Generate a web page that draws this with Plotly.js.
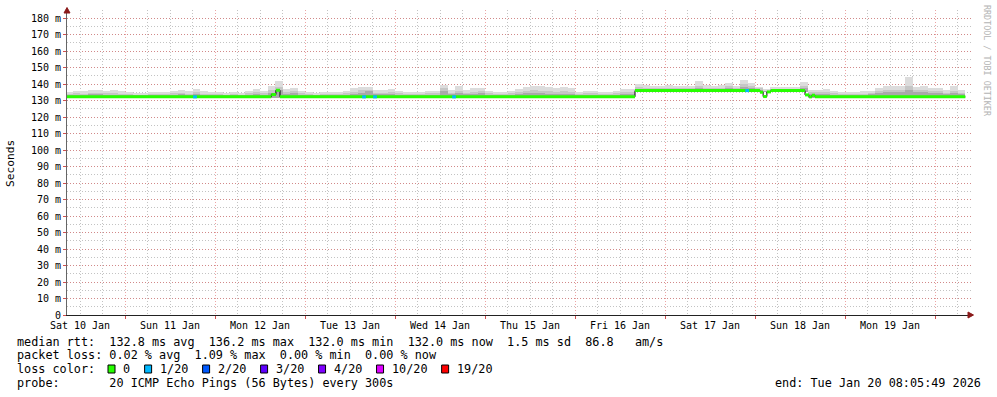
<!DOCTYPE html>
<html><head><meta charset="utf-8">
<script src="https://cdn.plot.ly/plotly-3.0.1.min.js"></script>
<style>html,body{margin:0;padding:0;background:#fff}#chart{width:997px;height:397px}</style>
</head><body><div id="chart"></div>
<script>
// ---------------- data ----------------
const binStart = '2026-01-10 08:00';   // smoke bins, 2 hours each
const binHours = 2;
const smokeTop = [
135.2,135.8,135.6,136.2,136.6,135.8,136.4,135.6,135.0,134.6,134.6,135.2,135.2,135.4,135.8,136.4,135.6,137.0,135.6,135.2,135.0,134.6,135.0,134.8,
135.8,137.2,136.0,138.6,141.6,137.0,137.6,135.8,135.2,134.6,135.2,135.2,135.4,135.8,137.4,138.0,138.2,136.4,136.6,137.2,136.0,
135.4,135.2,135.2,135.8,135.8,139.6,136.4,138.6,136.4,137.4,137.8,135.8,135.4,135.2,135.8,137.2,138.2,139.0,138.6,138.0,137.6,138.0,137.6,
135.0,135.8,135.8,135.2,135.2,135.8,137.0,137.0,140.0,139.4,138.8,138.8,139.4,139.0,138.8,138.8,141.6,139.4,138.8,139.6,140.6,139.0,142.6,140.4,138.4,137.2,138.2,138.2,
138.2,138.0,141.0,136.6,136.6,137.0,135.8,135.2,135.2,135.2,135.6,135.8,137.6,138.8,138.8,138.8,144.2,138.2,138.8,137.4,137.6,136.4,138.6,136.4];
const smokeMid = [
134.0,134.4,134.2,134.6,134.8,134.4,134.6,134.2,133.8,133.6,133.6,134.0,134.0,134.2,134.4,134.6,134.2,135.0,134.2,134.0,133.8,133.6,133.8,133.6,
134.4,135.2,134.6,136.4,138.4,135.2,135.6,134.4,134.0,133.6,134.0,134.0,134.2,134.4,135.4,136.2,136.4,134.8,134.8,135.2,134.4,
134.2,134.0,134.0,134.4,134.4,137.4,134.8,136.0,134.8,135.4,135.6,134.4,134.2,134.0,134.4,135.2,135.8,136.2,136.0,135.6,135.4,135.6,135.2,
133.8,134.4,134.4,134.0,134.0,134.4,135.2,135.2,138.2,137.8,137.6,137.6,137.8,137.6,137.6,137.6,139.0,137.8,137.6,137.8,138.6,137.8,140.0,138.6,137.4,136.0,137.2,137.2,
137.2,137.0,139.0,135.0,135.0,135.2,134.4,134.0,134.0,134.0,134.2,134.4,135.6,136.4,136.6,136.4,138.6,136.2,136.4,135.6,135.6,134.8,136.0,134.8];
const smokeDark = [
133.4,133.6,133.4,133.8,134.0,133.4,133.6,133.4,133.2,133.2,133.2,133.4,133.4,133.4,133.6,133.8,133.4,134.0,133.4,133.2,133.2,133.2,133.2,133.2,
133.6,134.0,133.6,134.6,136.6,134.2,134.4,133.6,133.4,133.2,133.4,133.4,133.4,133.6,134.2,134.8,135.6,133.8,133.8,134.2,133.6,
133.4,133.4,133.4,133.6,133.6,135.6,133.8,134.6,133.8,134.2,134.4,133.6,133.4,133.4,133.6,134.0,134.4,134.6,134.4,134.2,134.0,134.2,134.0,
133.2,133.6,133.6,133.4,133.4,133.6,134.2,134.2,137.2,136.8,136.8,136.8,137.0,136.8,136.8,136.8,137.4,136.8,136.8,137.0,137.4,136.8,138.2,137.4,136.6,135.6,136.8,136.8,
136.8,136.8,137.4,134.0,134.0,134.2,133.6,133.4,133.4,133.4,133.6,133.8,134.6,135.2,135.4,135.2,136.2,135.0,135.2,134.6,134.6,134.0,134.8,134.0];
const smokeLo = [
131.6,131.6,131.6,131.6,131.6,131.6,131.6,131.6,131.6,131.6,131.6,131.6,131.6,131.6,131.6,131.6,131.6,131.6,131.6,131.6,131.6,131.6,131.6,131.6,
131.6,131.6,131.6,131.6,131.6,131.6,131.6,131.6,131.6,131.6,131.6,131.6,131.6,131.6,131.6,131.6,131.6,131.6,131.6,131.6,131.6,
131.6,131.6,131.6,131.6,131.6,131.6,131.6,131.6,131.6,131.6,131.6,131.6,131.6,131.6,131.6,131.6,131.6,131.6,131.6,131.6,131.6,131.6,131.6,
131.6,131.6,131.6,131.6,131.6,131.6,131.6,131.6,135.4,135.4,135.4,135.4,135.4,135.4,135.4,135.4,135.4,135.4,135.4,135.4,135.4,135.4,135.4,135.4,135.2,135.2,135.4,135.4,
135.4,135.4,135.4,131.6,131.6,131.6,131.6,131.6,131.6,131.6,131.6,131.6,131.6,131.6,131.6,131.6,131.6,131.6,131.6,131.6,131.6,131.6,131.6,131.6];

// median rtt (ms), step changes
const medianTimes = ['2026-01-10 08:05','2026-01-12 15:00','2026-01-12 16:15','2026-01-12 17:20','2026-01-16 16:00',
  '2026-01-18 01:20','2026-01-18 02:10','2026-01-18 03:10','2026-01-18 04:15','2026-01-18 13:20',
  '2026-01-18 14:25','2026-01-18 15:10','2026-01-18 16:00','2026-01-20 08:05'];
const medianVals = [132.2,133.6,136.2,132.2,136.0,135.0,132.4,135.2,136.0,133.4,132.2,133.2,132.2,132.2];

// packet loss events (lost pings out of 20)
const lossTimes = ['2026-01-11 18:40','2026-01-13 15:45','2026-01-13 18:40','2026-01-14 15:45','2026-01-17 21:55'];
const lossCounts = [1,1,1,1,1];

const lossLevels = [0,1,2,3,4,10,19];
const lossColors = ['#26ff00','#00b8ff','#0059ff','#5e00ff','#7e00ff','#dd00ff','#ff0000'];
const lossLabels = ['0','1/20','2/20','3/20','4/20','10/20','19/20'];

const yTickVals = [0,10,20,30,40,50,60,70,80,90,100,110,120,130,140,150,160,170,180];
const yTickText = ['0','10 m','20 m','30 m','40 m','50 m','60 m','70 m','80 m','90 m','100 m','110 m','120 m','130 m','140 m','150 m','160 m','170 m','180 m'];

const statsRtt = 'median rtt:  132.8 ms avg  136.2 ms max  132.0 ms min  132.0 ms now  1.5 ms sd  86.8   am/s';
const statsLoss = 'packet loss: 0.02 % avg  1.09 % max  0.00 % min  0.00 % now';
const lossTitle = 'loss color:';
const probeText = 'probe:       20 ICMP Echo Pings (56 Bytes) every 300s';
const endText = 'end: Tue Jan 20 08:05:49 2026';
const watermark = 'RRDTOOL / TOBI OETIKER';

// ---------------- helpers ----------------
const FONT = 'DejaVu Sans Mono, monospace';
const L = 67, R = 972, T = 10, B = 315;
const px = p => (p - L) / (R - L);
const py = p => (B - p) / (B - T);
const toMs = s => Date.parse(s.replace(' ', 'T') + ':00Z');
const fmt = ms => new Date(ms).toISOString().replace('T', ' ').slice(0, 19);
const nb = s => s.replace(/ /g, '\u00a0');
const HOUR = 3600000;

// smoke bins
const t0 = toMs(binStart);
const binX = smokeTop.map((_, i) => fmt(t0 + (i + 0.5) * binHours * HOUR));
function smokeBar(arr, color) {
  return {type: 'bar', x: binX, base: smokeLo, y: arr.map((v, i) => v - smokeLo[i]),
    width: binHours * HOUR, marker: {color: color, line: {width: 0}}, hoverinfo: 'skip', showlegend: false};
}

// median segments
const segX = [], segY = [];
for (let i = 0; i < medianTimes.length - 1; i++) {
  segX.push(medianTimes[i], medianTimes[i + 1], null);
  segY.push(medianVals[i], medianVals[i], null);
}
function medianAt(s) {
  const t = toMs(s); let v = medianVals[0];
  for (let i = 0; i < medianTimes.length; i++) if (toMs(medianTimes[i]) <= t) v = medianVals[i];
  return v;
}
const lossTraces = lossTimes.map((s, i) => {
  const t = toMs(s), v = medianAt(s);
  let ci = 0; lossLevels.forEach((lv, k) => { if (lossCounts[i] >= lv) ci = k; });
  return {type: 'scatter', mode: 'lines', x: [fmt(t - 0.5 * HOUR), fmt(t + 0.5 * HOUR)], y: [v, v],
    line: {color: lossColors[ci], width: 3}, hoverinfo: 'skip', showlegend: false};
});

const traces = [
  smokeBar(smokeTop, '#dcdcdc'),
  smokeBar(smokeMid, '#c6c6c6'),
  smokeBar(smokeDark, '#a9a9a9'),
  {type: 'scatter', mode: 'lines', x: medianTimes, y: medianVals, line: {color: '#000', width: 1, shape: 'hv'}, hoverinfo: 'skip', showlegend: false},
  {type: 'scatter', mode: 'lines', x: segX, y: segY, line: {color: lossColors[0], width: 3}, connectgaps: false, hoverinfo: 'skip', showlegend: false},
  ...lossTraces
];

// ---------------- annotations & shapes ----------------
const ann = [];
const textAnn = (txt, xp, yp, size, anchor, extra) => Object.assign({
  xref: 'paper', yref: 'paper', x: px(xp), y: py(yp), xanchor: anchor || 'left', yanchor: 'middle',
  text: nb(txt), showarrow: false, font: {family: FONT, size: size, color: '#000'}, borderpad: 0
}, extra || {});
ann.push(textAnn(statsRtt, 15.5, 341.5, 11.8));
ann.push(textAnn(statsLoss, 15.5, 355.3, 11.8));
ann.push(textAnn(lossTitle, 15.5, 369, 11.8));
ann.push(textAnn(probeText, 15.5, 382.7, 11.8));
ann.push(textAnn(endText, 982, 382.7, 11.8, 'right'));
ann.push(Object.assign(textAnn('Seconds', 11, 164, 11.2, 'center'), {textangle: -90}));
ann.push(Object.assign(textAnn(watermark, 987, 4, 8.4, 'center'), {textangle: 90, yanchor: 'top', font: {family: FONT, size: 8.4, color: '#b4b4b4'}}));

const shapes = [];
let bx = 108;
lossLabels.forEach((lab, i) => {
  shapes.push({type: 'rect', xref: 'paper', yref: 'paper', x0: px(bx), x1: px(bx + 7), y0: py(373), y1: py(365),
    fillcolor: lossColors[i], line: {color: '#000', width: 1}, layer: 'above'});
  ann.push(textAnn(lab, bx + 14, 369, 11.8));
  bx = bx + 15 + lab.length * 7.12 + 14.5;
});
// axis arrows
shapes.push({type: 'path', xref: 'paper', yref: 'paper', fillcolor: '#8b1a1a', line: {color: '#8b1a1a', width: 1},
  path: `M ${px(67)},${py(7.5)} L ${px(64)},${py(13)} L ${px(70)},${py(13)} Z`, layer: 'above'});
shapes.push({type: 'path', xref: 'paper', yref: 'paper', fillcolor: '#8b1a1a', line: {color: '#8b1a1a', width: 1},
  path: `M ${px(973.5)},${py(315)} L ${px(968)},${py(312)} L ${px(968)},${py(318)} Z`, layer: 'above'});

const MAJ = 'rgba(220,90,90,0.55)', MIN = 'rgba(170,170,170,0.7)', DASH = '1px,2px';
const layout = {
  width: 997, height: 397, margin: {l: L, r: 997 - R, t: T, b: 397 - B, pad: 0},
  paper_bgcolor: '#fff', plot_bgcolor: '#fff', barmode: 'overlay', bargap: 0, showlegend: false,
  xaxis: {
    type: 'date', range: ['2026-01-10 08:32', '2026-01-20 09:52'],
    tickmode: 'linear', tick0: '2026-01-10', dtick: 86400000, ticklabelmode: 'period', tickformat: '%a %d %b',
    showgrid: true, gridcolor: MAJ, griddash: DASH, gridwidth: 1,
    minor: {tickmode: 'linear', tick0: '2026-01-10', dtick: 6 * HOUR, showgrid: true, gridcolor: MIN, griddash: DASH, ticks: ''},
    ticks: 'outside', ticklen: 3, tickcolor: '#d05050', tickwidth: 1, ticklabelstandoff: -2,
    showline: true, linecolor: '#222', linewidth: 1, zeroline: false,
    tickfont: {family: FONT, size: 10, color: '#000'}, fixedrange: true
  },
  yaxis: {
    range: [0, (B - T) / 1.65], tickmode: 'array', tickvals: yTickVals, ticktext: yTickText,
    showgrid: true, gridcolor: MAJ, griddash: DASH, gridwidth: 1,
    minor: {tickmode: 'linear', tick0: 0, dtick: 5, showgrid: true, gridcolor: MIN, griddash: DASH, ticks: ''},
    ticks: 'outside', ticklen: 3, tickcolor: '#d05050', tickwidth: 1,
    showline: true, linecolor: '#666', linewidth: 1, zeroline: false,
    tickfont: {family: FONT, size: 10, color: '#000'}, fixedrange: true
  },
  annotations: ann, shapes: shapes
};
Plotly.newPlot('chart', traces, layout, {displayModeBar: false, staticPlot: true});
</script>
</body></html>
